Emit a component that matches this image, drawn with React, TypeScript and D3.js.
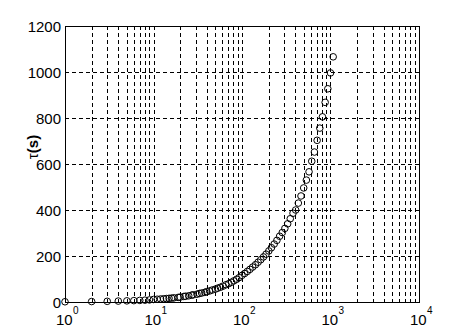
import React from "react";
import * as d3 from "d3";

const xValues = [1,2,3,4,5,6,7,8,9,10,11,12,13,14,15,16,17,19,20,22,23,25,27,28,31,33,35,38,40,43,46,50,53,57,61,66,71,76,81,87,93,100,107,115,123,132,142,152,163,175,187,201,215,231,248,266,285,305,328,351,377,404,433,464,498,534,572,614,658,706,757,811,870,933,1000,1072];
const tauValues = [1,2,3,4,5,6,7,8,9,11,12,13,14,15,16,17,18,20,21,24,25,27,30,31,34,37,39,42,45,48,52,56,60,64,69,75,80,86,92,99,106,116,124,133,142,152,162,173,184,196,208,222,236,252,268,286,302,320,340,362,386,400,430,461,496,530,566,612,652,703,756,805,868,927,996,1066];
const xDecades = [0, 1, 2, 3, 4];
const yTicks = [0, 200, 400, 600, 800, 1000, 1200];

const W = 464, H = 328;
const L = 65, R = 419, T = 26, B = 302;

export default function App() {
  const x = d3.scaleLog().domain([1, 10000]).range([L, R]);
  const y = d3.scaleLinear().domain([0, 1200]).range([B, T]);
  const minor: number[] = [];
  for (let d = 0; d < 4; d++) for (let m = 2; m <= 9; m++) minor.push(m * Math.pow(10, d));
  const major = xDecades.map((e) => Math.pow(10, e));
  const font = "'Liberation Sans', Arial, sans-serif";
  return (
    <svg width={W} height={H} style={{ position: "absolute", left: 0, top: 0, background: "#fff" }}>
      <rect x={0} y={0} width={W} height={H} fill="#fff" />
      <g stroke="#000" strokeWidth={1} strokeDasharray="4,3" shapeRendering="crispEdges">
        {[...minor, ...major.slice(1, -1)].map((v, i) => (
          <line key={"gx" + i} x1={Math.round(x(v)) + 0.5} x2={Math.round(x(v)) + 0.5} y1={T} y2={B} />
        ))}
        {yTicks.slice(1, -1).map((v, i) => (
          <line key={"gy" + i} x1={L} x2={R} y1={Math.round(y(v)) + 0.5} y2={Math.round(y(v)) + 0.5} />
        ))}
      </g>
      <rect x={L + 0.5} y={T + 0.5} width={R - L} height={B - T} fill="none" stroke="#000" strokeWidth={1} shapeRendering="crispEdges" />
      <g fill="none" stroke="#000" strokeWidth={1}>
        {xValues.map((v, i) => (
          <circle key={"p" + i} cx={x(v)} cy={y(tauValues[i])} r={3.3} />
        ))}
      </g>
      <g fontFamily={font} fontSize={15} fill="#000">
        {yTicks.map((v) => (
          <text key={"yl" + v} x={61} y={y(v)} textAnchor="end" dominantBaseline="central">{v}</text>
        ))}
        {xDecades.map((e) => (
          <g key={"xl" + e} transform={`translate(${x(Math.pow(10, e))},0)`}>
            <text x={-9} y={325}>10</text>
            <text x={8} y={314} fontSize={10}>{e}</text>
          </g>
        ))}
        <text transform={`translate(38,147) rotate(-90)`} textAnchor="middle" fontWeight="bold">
          <tspan fontWeight="normal">τ</tspan>(s)
        </text>
      </g>
    </svg>
  );
}
